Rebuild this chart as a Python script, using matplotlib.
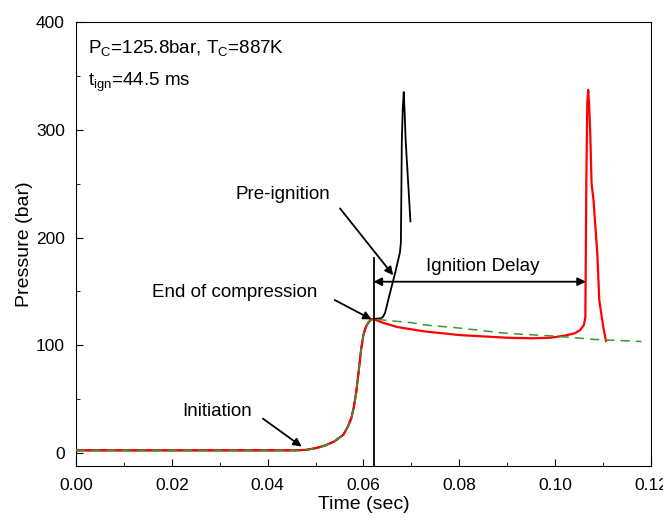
import numpy as np
import matplotlib
matplotlib.use('Agg')
import matplotlib.pyplot as plt

plt.rcParams['font.family'] = ['Liberation Sans', 'DejaVu Sans']
plt.rcParams['mathtext.default'] = 'regular'

# compression stroke shared by all traces
t_comp = [0.000, 0.046, 0.048, 0.050, 0.052, 0.054, 0.0558, 0.0568, 0.0575, 0.058,
          0.0585, 0.059, 0.0595, 0.060, 0.0605, 0.061, 0.0615, 0.062]
p_comp = [2.5, 2.5, 3, 4.5, 7, 11, 17, 25, 33, 43,
          57, 76, 96, 110, 117, 121, 123.5, 124.5]

# measured trace after end of compression (red)
t_red_post = [0.064, 0.067, 0.0725, 0.080, 0.090, 0.095, 0.099, 0.102, 0.104, 0.1052,
              0.106, 0.1063, 0.1065, 0.1067, 0.1069, 0.1071, 0.1073, 0.1076, 0.1080,
              0.1083, 0.1088, 0.1092, 0.1100, 0.1106]
p_red_post = [121, 117, 113, 109.5, 107, 106.5, 107, 109, 111, 114,
              119, 126, 250, 325, 337, 322, 300, 250, 235,
              216, 185, 142, 118, 104]

# pre-ignition trace (black)
t_black_post = [0.0635, 0.064, 0.0645, 0.0655, 0.0666, 0.0676, 0.0678, 0.0679, 0.0680,
                0.0682, 0.0684, 0.0686, 0.0688, 0.0690, 0.0694, 0.0698]
p_black_post = [125, 126, 130, 148, 167, 186, 195, 240, 290,
                320, 335, 315, 290, 275, 245, 215]

# non-reactive trace (green dashed)
t_green_post = [0.065, 0.070, 0.0725, 0.080, 0.090, 0.100, 0.108, 0.118]
p_green_post = [123, 121, 119, 116, 111, 108.5, 105.5, 103.5]

t_eoc = 0.0621
t_ign = 0.1064

fig = plt.figure(figsize=(6.63, 5.22), dpi=100)
ax = fig.add_axes([0.1146, 0.1073, 0.8673, 0.8506])

ax.plot(t_comp + t_black_post, p_comp + p_black_post, color='black', lw=1.3, zorder=2)
ax.plot(t_comp + t_red_post, p_comp + p_red_post, color='red', lw=1.6, zorder=3)
ax.plot(t_comp + t_green_post, p_comp + p_green_post, color='#339933', lw=1.1,
        dashes=(6, 4), zorder=4)

ax.plot([t_eoc, t_eoc], [-12, 181], color='black', lw=1.3, zorder=5)
ax.annotate('', xy=(t_eoc, 159), xytext=(t_ign, 159),
            arrowprops=dict(arrowstyle='<|-|>', color='black', lw=1.3,
                            mutation_scale=12, shrinkA=0, shrinkB=0))
ax.text(0.0849, 173, 'Ignition Delay', ha='center', va='center', fontsize=13.5)

arrow = dict(arrowstyle='-|>', color='black', lw=1.3, mutation_scale=12,
             shrinkA=0, shrinkB=0)
ax.text(0.0432, 240, 'Pre-ignition', ha='center', va='center', fontsize=13.5)
ax.annotate('', xy=(0.0662, 165), xytext=(0.0551, 227), arrowprops=arrow)
ax.text(0.0332, 149, 'End of compression', ha='center', va='center', fontsize=13.5)
ax.annotate('', xy=(0.0617, 124), xytext=(0.0540, 142), arrowprops=arrow)
ax.text(0.0294, 39, 'Initiation', ha='center', va='center', fontsize=13.5)
ax.annotate('', xy=(0.0471, 6), xytext=(0.0390, 32), arrowprops=arrow)

ax.text(0.0025, 371, r'P$_{C}$=125.8bar, T$_{C}$=887K', fontsize=13.5, va='baseline')
ax.text(0.0025, 341, r't$_{ign}$=44.5 ms', fontsize=13.5, va='baseline')

ax.set_xlim(0, 0.12)
ax.set_ylim(-12, 400)
ax.set_xticks(np.arange(0, 0.121, 0.02))
ax.set_xticks(np.arange(0.01, 0.12, 0.02), minor=True)
ax.set_xticklabels(['0.00', '0.02', '0.04', '0.06', '0.08', '0.10', '0.12'])
ax.set_yticks([0, 100, 200, 300, 400])
ax.set_yticks([50, 150, 250, 350], minor=True)
ax.tick_params(which='both', direction='in', labelsize=12.5)
ax.tick_params(axis='x', which='major', length=5, pad=9)
ax.tick_params(axis='y', which='major', length=5, pad=8)
ax.tick_params(which='minor', length=3)
ax.set_xlabel('Time (sec)', fontsize=14, labelpad=2)
ax.set_ylabel('Pressure (bar)', fontsize=14, labelpad=2)

fig.savefig('out.png', dpi=100)
